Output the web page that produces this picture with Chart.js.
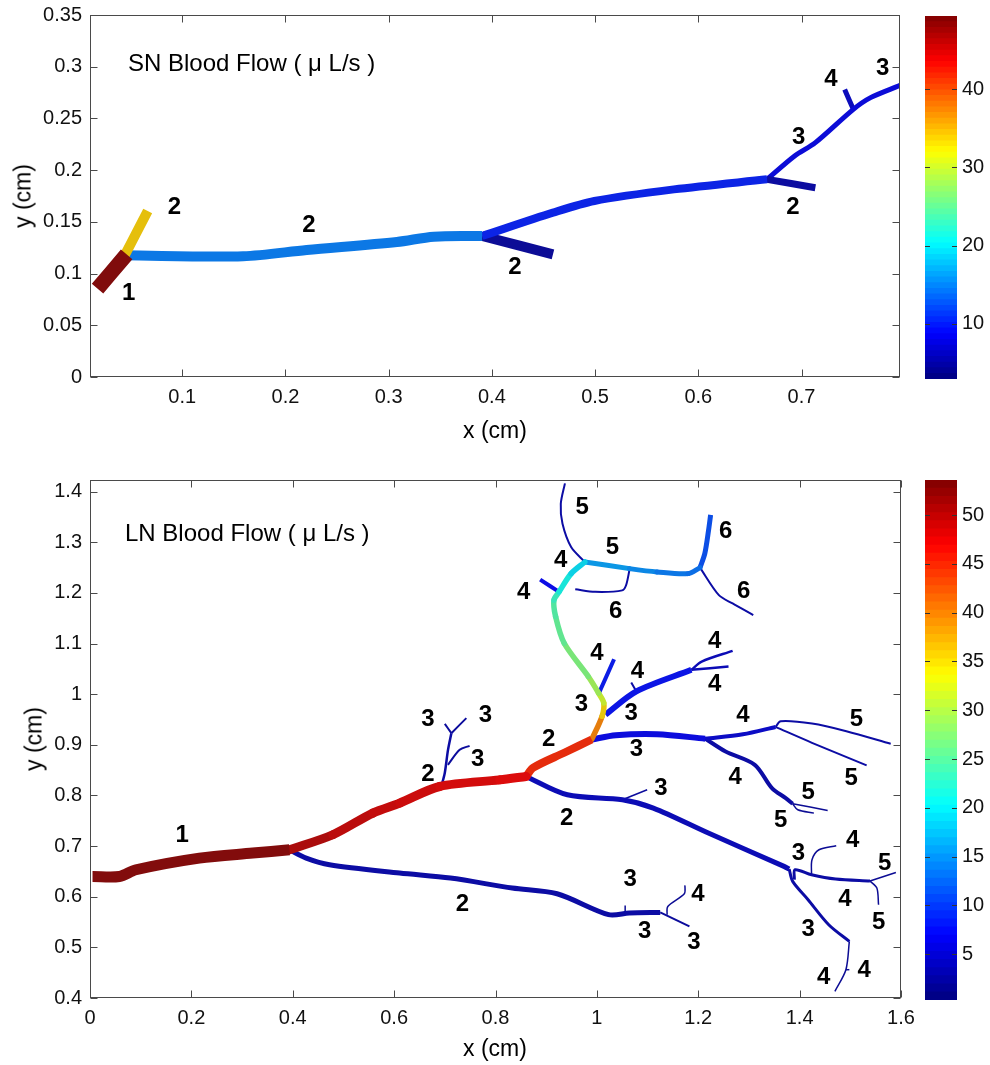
<!DOCTYPE html>
<html><head><meta charset="utf-8">
<script src="https://cdn.jsdelivr.net/npm/chart.js@4.4.1/dist/chart.umd.min.js"></script>
<style>
html,body{margin:0;padding:0;background:#fff;}
body{width:990px;height:1065px;position:relative;overflow:hidden;font-family:"Liberation Sans",Arial,Helvetica,sans-serif;}
canvas{position:absolute;}
.t{position:absolute;color:#000;white-space:nowrap;line-height:1;}
</style></head><body>
<canvas id="snMain" width="930" height="455" style="left:0px;top:-5px;width:930px;height:455px"></canvas>
<canvas id="snBar" width="90" height="400" style="left:900px;top:-1px;width:90px;height:400px"></canvas>
<canvas id="lnMain" width="930" height="605" style="left:0px;top:460px;width:930px;height:605px"></canvas>
<canvas id="lnBar" width="90" height="560" style="left:900px;top:463px;width:90px;height:560px"></canvas>

<div class="t" style="left:128px;top:63px;transform:translateY(-50%);font-size:24px">SN Blood Flow ( μ L/s )</div>
<div class="t" style="left:495px;top:430px;transform:translate(-50%,-50%);font-size:23px">x (cm)</div>
<div class="t" style="left:23px;top:196px;transform:translate(-50%,-50%) rotate(-90deg);font-size:23px">y (cm)</div>
<div class="t" style="left:125px;top:533px;transform:translateY(-50%);font-size:24px">LN Blood Flow ( μ L/s )</div>
<div class="t" style="left:495px;top:1048px;transform:translate(-50%,-50%);font-size:23px">x (cm)</div>
<div class="t" style="left:34px;top:739px;transform:translate(-50%,-50%) rotate(-90deg);font-size:23px">y (cm)</div>

<script>
// ---------------- DATA ----------------
// SN network
const snXTicks = [0.1,0.2,0.3,0.4,0.5,0.6,0.7];
const snYTicks = [0,0.05,0.1,0.15,0.2,0.25,0.3,0.35];
const snXRange = [0.0107,0.7954];
const snYRange = [0,0.35];
const snFlowRange = [2.9,49.4];
const snBarTicks = [10,20,30,40];
const snPaths = [
  [[0.018,0.0854],[0.0462,0.1186]],
  [[0.0445,0.118],[0.0666,0.1605]],
  [[0.0440,0.1176],[0.159,0.1168],[0.2206,0.1228],[0.308,0.1305],[0.3438,0.1357],[0.3906,0.1363]],
  [[0.3906,0.1363],[0.4592,0.1589],[0.4993,0.1702],[0.5763,0.1814],[0.6666,0.1911]],
  [[0.3906,0.1363],[0.4592,0.1186]],
  [[0.6666,0.1911],[0.7134,0.183]],
  [[0.6666,0.1911],[0.6933,0.2137],[0.7134,0.2266],[0.7502,0.2588],[0.7669,0.2701],[0.7954,0.282]],
  [[0.7502,0.2588],[0.7418,0.278]]
];
const snFlow = [49, 34, 14.5, 10, 4.5, 5, 8, 6.5];
const snWidth = [15, 10, 10, 8, 10, 7, 5, 5];
const snLabels = [['1',0.0481,0.0822],['2',0.0925,0.1653],['2',0.2229,0.148],['2',0.4224,0.1073],
  ['2',0.6916,0.1653],['3',0.6973,0.233],['4',0.7284,0.2887],['3',0.7786,0.299]];

// LN network
const lnXTicks = [0,0.2,0.4,0.6,0.8,1,1.2,1.4,1.6];
const lnYTicks = [0.4,0.5,0.6,0.7,0.8,0.9,1,1.1,1.2,1.3,1.4];
const lnXRange = [0,1.6];
const lnYRange = [0.4,1.423];
const lnFlowRange = [0.3,53.6];
const lnBarTicks = [5,10,15,20,25,30,35,40,45,50];
const lnPaths = [
  [[0.005,0.64],[0.058,0.64],[0.0908,0.6533],[0.2158,0.6763],[0.3211,0.6862],[0.3936,0.6927]],
  [[0.3936,0.6927],[0.479,0.7224],[0.558,0.7652],[0.611,0.7849],[0.6898,0.8177],[0.808,0.8308],[0.8604,0.8375]],
  [[0.8604,0.8375],[0.8746,0.8548],[0.9356,0.8843],[0.9898,0.9105]],
  [[0.9898,0.9105],[1.0102,0.9564],[1.0136,0.9826],[1.0034,1.0022],[0.983,1.035],[0.9356,1.1005],[0.9186,1.153],[0.9153,1.1857],[0.9254,1.2021],[0.9492,1.2381],[0.9763,1.2611]],
  [[0.3936,0.6927],[0.4265,0.6763],[0.4725,0.6631],[0.6108,0.6467],[0.7111,0.6368],[0.8332,0.6171],[0.9214,0.6059],[1.0232,0.5645],[1.0639,0.5678],[1.125,0.5691]],
  [[0.8604,0.8375],[0.9418,0.8013],[1.0503,0.7914],[1.1114,0.775],[1.2199,0.7257],[1.3692,0.6599],[1.3794,0.6546]],
  [[0.9898,0.9105],[1.0373,0.9188],[1.1186,0.9208],[1.2136,0.9122]],
  [[1.2136,0.9122],[1.2881,0.9208],[1.3525,0.9353]],
  [[1.0169,0.9596],[1.078,1.0055],[1.1864,1.0481]],
  [[0.9763,1.2611],[1.0644,1.248],[1.1186,1.2414],[1.1797,1.2381],[1.2034,1.2499]],
  [[1.2034,1.2499],[1.2129,1.2775],[1.2203,1.3233],[1.2244,1.3541]],
  [[0.9254,1.2021],[0.8881,1.2263]],
  [[1.0047,1.0035],[1.0339,1.069]],
  [[1.2136,0.9122],[1.2539,0.8868],[1.3115,0.8605],[1.3454,0.8145],[1.3726,0.7947],[1.3862,0.7836]],
  [[1.3794,0.6546],[1.3863,0.6303],[1.4167,0.5941],[1.4574,0.5447],[1.4981,0.5118]],
  [[1.3896,0.6336],[1.391,0.6533],[1.4235,0.6434],[1.471,0.6349],[1.5388,0.6309]],
  [[0.6931,0.8177],[0.7,0.845],[0.7063,0.89],[0.7129,0.923]],
  [[0.7129,0.923],[0.70,0.9414]],
  [[0.7129,0.923],[0.7425,0.9527]],
  [[0.7062,0.8605],[0.7293,0.8901],[0.7489,0.898]],
  [[1.1864,1.0481],[1.2068,1.0645],[1.2678,1.0855]],
  [[1.1864,1.0481],[1.2597,1.0547]],
  [[1.078,1.0055],[1.0678,1.0232]],
  [[0.9763,1.2611],[0.9492,1.2906],[0.9322,1.3364],[0.9288,1.3758],[0.937,1.4164]],
  [[1.2034,1.2499],[1.2407,1.1955],[1.2678,1.1792],[1.3085,1.1562]],
  [[1.0644,1.246],[1.0576,1.2152],[1.05,1.205],[0.9966,1.2021],[0.9573,1.2073]],
  [[1.3525,0.9353],[1.3627,0.9465],[1.4244,0.9419],[1.4922,0.9268],[1.5797,0.902]],
  [[1.3525,0.9353],[1.4244,0.904],[1.5322,0.8594]],
  [[1.3862,0.7836],[1.4553,0.7704]],
  [[1.3862,0.7836],[1.3963,0.7717],[1.4282,0.7651]],
  [[1.0503,0.7914],[1.0992,0.8112]],
  [[1.4981,0.5118],[1.4913,0.4559],[1.4696,0.4132]],
  [[1.4913,0.4559],[1.4981,0.4559]],
  [[1.5388,0.6309],[1.5899,0.648]],
  [[1.5388,0.6309],[1.5524,0.6171],[1.5557,0.5842]],
  [[1.4235,0.6434],[1.4244,0.673],[1.4382,0.6928],[1.4722,0.7007]],
  [[1.125,0.5691],[1.1826,0.5414]],
  [[1.1385,0.5645],[1.1399,0.5809],[1.1725,0.6059],[1.1738,0.6224]],
  [[1.0558,0.5665],[1.0558,0.5829]]
];
const lnFlow = [53, [51,50,49,49,48,48,47], 45, [42,38,33,30,28,26,25,24,22,20,18],
  3, 4, 6.5, 5, 7.5, [16,15,14,13,13], 11, 7, 8, 3, 3, 3,
  3, 2.5, 2.5, 2.5, 4, 4, 3, 3, 3, 3, 3, 3, 2, 2, 2.5, 2, 2, 2, 2, 2, 2.5, 2, 2];
const lnWidth = [11, 9, 8, 5.5, 5, 5, 6, 4, 6, 5, 5, 4, 4, 4, 3, 3,
  2.5, 2, 2, 2, 2.5, 2.5, 2, 2, 2, 2, 2, 2, 1.5, 1.5, 1.5, 1.5, 1.5, 1.5, 1.5, 1.5, 2, 1.5, 1.5];
const lnLabels = [
 ['1',0.1817,0.7224],['2',0.6667,0.8442],['3',0.6667,0.9527],['3',0.7800,0.9600],['3',0.7650,0.8740],
 ['2',0.9051,0.9118],['3',0.9695,0.9826],['4',1.0,1.0822],['4',0.8556,1.2021],['4',0.9288,1.2657],
 ['5',0.9708,1.3705],['5',1.0305,1.2919],['6',1.0373,1.1647],['6',1.2542,1.3233],['6',1.2895,1.2054],
 ['4',1.08,1.0468],['4',1.2325,1.1058],['4',1.2325,1.0219],['3',1.0678,0.9642],['4',1.2881,0.961],
 ['5',1.5119,0.9531],['3',1.078,0.8921],['3',1.1263,0.8164],['4',1.2729,0.8375],['5',1.5015,0.8362],
 ['5',1.4167,0.8079],['2',0.9404,0.7566],['5',1.3624,0.752],['3',1.3977,0.6875],['4',1.5049,0.7125],
 ['5',1.5679,0.6678],['3',1.0659,0.6368],['4',1.1996,0.6059],['4',1.4893,0.5974],['2',0.7349,0.5875],
 ['5',1.5558,0.5513],['3',1.4167,0.5382],['3',1.0944,0.5329],['3',1.1914,0.5118],['4',1.5273,0.4572],
 ['4',1.4472,0.4428]];

// ---------------- HELPERS ----------------
const FONT = '"Liberation Sans", Arial, Helvetica, sans-serif';
Chart.defaults.font.family = FONT;
Chart.defaults.animation = false;

function jet(f){
  f = Math.max(0, Math.min(1, f));
  const c = t => Math.max(0, Math.min(1, 1.5 - Math.abs(t)));
  return [c(4*f-3), c(4*f-2), c(4*f-1)];
}
function vesselColor(v, range){
  const [r,g,b] = jet((v-range[0])/(range[1]-range[0]));
  const s = x => Math.round(x*0.85*255 + 12);
  return `rgb(${s(r)},${s(g)},${s(b)})`;
}
function vesselDatasets(paths, flows, widths, range){
  return paths.map((pts,i)=>{
    const fl = flows[i];
    const arr = Array.isArray(fl);
    const ds = {
      data: pts.map(p=>({x:p[0], y:p[1]})),
      showLine: true, pointRadius: 0, pointHoverRadius: 0,
      borderWidth: widths[i],
      borderColor: vesselColor(arr ? fl[0] : fl, range),
      borderCapStyle: arr ? 'round' : 'butt',
      borderJoinStyle: 'round',
      tension: 0.3, fill: false
    };
    if (arr) ds.segment = { borderColor: c => vesselColor((fl[c.p0DataIndex]+fl[c.p1DataIndex])/2, range) };
    return ds;
  });
}
const fmt = v => String(+Number(v).toFixed(3));

const frame = {
  id: 'frame',
  afterDatasetsDraw(chart, args, o){
    if (!o || !o.on) return;
    const {ctx, chartArea:a, scales:{x, y}} = chart;
    ctx.save();
    ctx.strokeStyle = '#4a4a4a'; ctx.lineWidth = 1;
    const L = Math.round(a.left)+0.5, R = Math.round(a.right)-0.5, T = Math.round(a.top)+0.5, B = Math.round(a.bottom)-0.5;
    ctx.strokeRect(L, T, R-L, B-T);
    const tl = 7;
    ctx.beginPath();
    o.xt.forEach(v=>{ const p = Math.round(x.getPixelForValue(v))+0.5; ctx.moveTo(p,B); ctx.lineTo(p,B-tl); ctx.moveTo(p,T); ctx.lineTo(p,T+tl); });
    o.yt.forEach(v=>{ const p = Math.round(y.getPixelForValue(v))+0.5; ctx.moveTo(L,p); ctx.lineTo(L+tl,p); ctx.moveTo(R,p); ctx.lineTo(R-tl,p); });
    ctx.stroke();
    // vessel order labels
    ctx.fillStyle = '#000';
    ctx.font = 'bold 24px ' + FONT;
    ctx.textAlign = 'center'; ctx.textBaseline = 'middle';
    o.labels.forEach(([t,lx,ly])=>{ ctx.fillText(t, x.getPixelForValue(lx), y.getPixelForValue(ly)+1); });
    ctx.restore();
  }
};
const barTicks = {
  id: 'barTicks',
  afterDatasetsDraw(chart, args, o){
    if (!o || !o.on) return;
    const {ctx, chartArea:a, scales:{y}} = chart;
    ctx.save();
    ctx.strokeStyle = '#333'; ctx.lineWidth = 1;
    ctx.beginPath();
    o.ticks.forEach(v=>{ const p = Math.round(y.getPixelForValue(v))+0.5;
      ctx.moveTo(a.left,p); ctx.lineTo(a.left+5,p); ctx.moveTo(a.right,p); ctx.lineTo(a.right-5,p); });
    ctx.stroke();
    ctx.restore();
  }
};

function mainChart(id, paths, flows, widths, frange, xr, yr, xt, yt, labels, xAxisH, padTop, padRight){
  return new Chart(document.getElementById(id), {
    type: 'scatter',
    data: { datasets: vesselDatasets(paths, flows, widths, frange) },
    options: {
      responsive: false, animation: false, events: [],
      layout: { padding: { left: 0, top: padTop, right: padRight, bottom: 0 } },
      plugins: { legend:{display:false}, tooltip:{enabled:false}, frame:{on:true, xt, yt, labels} },
      scales: {
        x: { type:'linear', min:xr[0], max:xr[1],
             afterBuildTicks: s => { s.ticks = xt.map(v=>({value:v})); },
             afterFit: s => { s.height = xAxisH; },
             grid:{display:false, drawTicks:false}, border:{display:false},
             ticks:{ padding:8, color:'#111', font:{size:20}, callback: v => fmt(v), maxRotation:0, autoSkip:false } },
        y: { type:'linear', min:yr[0], max:yr[1],
             afterBuildTicks: s => { s.ticks = yt.map(v=>({value:v})); },
             afterFit: s => { s.width = 90; },
             grid:{display:false, drawTicks:false}, border:{display:false},
             ticks:{ padding:8, color:'#111', font:{size:20}, callback: v => fmt(v), autoSkip:false } }
      }
    },
    plugins: [frame]
  });
}

function colorBar(id, range, ticks, padTop, padBottom){
  const n = 64, step = (range[1]-range[0])/n;
  const ds = [];
  for (let i=0;i<n;i++){
    const [r,g,b] = jet((i+0.5)/n);
    const lo = range[0]+i*step - (i>0 ? step*0.4 : 0);
    ds.push({ data:[[lo, range[0]+(i+1)*step]],
      backgroundColor:`rgb(${Math.round(r*255)},${Math.round(g*255)},${Math.round(b*255)})`,
      borderWidth:0, grouped:false, barPercentage:1, categoryPercentage:1 });
  }
  return new Chart(document.getElementById(id), {
    type: 'bar',
    data: { labels:[''], datasets: ds },
    options: {
      responsive:false, animation:false, events:[],
      layout: { padding: { left:25, top:padTop, right:0, bottom:padBottom } },
      plugins: { legend:{display:false}, tooltip:{enabled:false}, barTicks:{on:true, ticks} },
      scales: {
        x: { display:false },
        y: { position:'right', min:range[0], max:range[1],
             afterBuildTicks: s => { s.ticks = ticks.map(v=>({value:v})); },
             afterFit: s => { s.width = 33; },
             grid:{display:false, drawTicks:false}, border:{display:false},
             ticks:{ padding:5, color:'#111', font:{size:20}, autoSkip:false } }
      }
    },
    plugins: [barTicks]
  });
}

mainChart('snMain', snPaths, snFlow, snWidth, snFlowRange, snXRange, snYRange, snXTicks, snYTicks, snLabels, 73, 15, 30);
colorBar('snBar', snFlowRange, snBarTicks, 17, 20);
mainChart('lnMain', lnPaths, lnFlow, lnWidth, lnFlowRange, lnXRange, lnYRange, lnXTicks, lnYTicks, lnLabels, 67, 15, 29);
colorBar('lnBar', lnFlowRange, lnBarTicks, 17, 23);
</script>
</body></html>
